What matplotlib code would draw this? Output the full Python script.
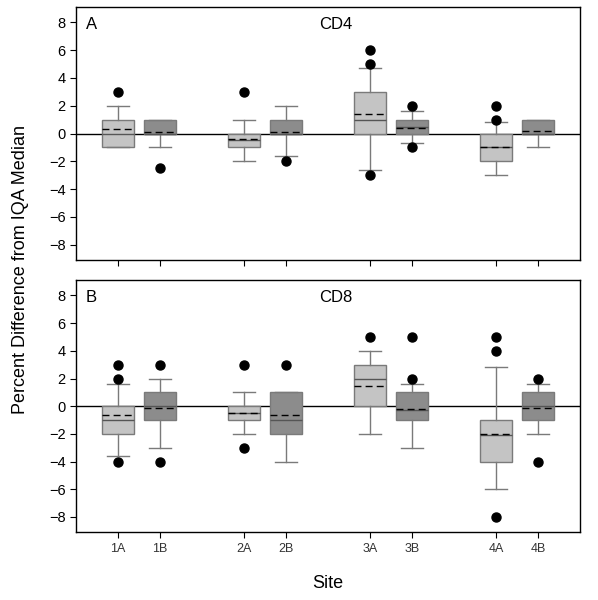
import matplotlib
matplotlib.use("Agg")
import matplotlib.pyplot as plt

plt.rcParams['font.family'] = ['Liberation Sans', 'DejaVu Sans']

# Sites and positions
sites = ["1A", "1B", "2A", "2B", "3A", "3B", "4A", "4B"]
positions = [1, 2, 4, 5, 7, 8, 10, 11]

# CD4 panel
cd4_q1 = [-1, 0, -1, 0, 0, 0, -2, 0]
cd4_q3 = [1, 1, 0, 1, 3, 1, 0, 1]
cd4_med = [0, 0, -0.5, 0, 1, 0.5, -1, 0]
cd4_mean = [0.3, 0.1, -0.43, 0.1, 1.43, 0.4, -0.95, 0.2]
cd4_lo = [-1, -1, -2, -1.6, -2.6, -0.65, -3, -1]
cd4_hi = [2, 1, 1, 2, 4.75, 1.6, 0.8, 1]
cd4_fliers = [[3], [-2.5], [3], [-2], [6, 5, -3], [2, -1], [2, 1], []]

# CD8 panel
cd8_q1 = [-2, -1, -1, -2, 0, -1, -4, -1]
cd8_q3 = [0, 1, 0, 1, 3, 1, -1, 1]
cd8_med = [-1, 0, -0.5, -1, 2, -0.3, -2.1, 0]
cd8_mean = [-0.66, -0.14, -0.47, -0.66, 1.46, -0.23, -2.0, -0.1]
cd8_lo = [-3.6, -3, -2, -4, -2, -3, -6, -2]
cd8_hi = [1.6, 2, 1, 1, 4, 1.6, 2.8, 1.6]
cd8_fliers = [[3, 2, -4], [3, -4], [3, -3], [3], [5], [5, 2], [5, 4, -8], [2, -4]]

light = "#c4c4c4"
dark = "#8c8c8c"
edge = "#7a7a7a"


def make_stats(q1, q3, med, mean, lo, hi, fliers):
    stats = []
    for i in range(len(q1)):
        stats.append(dict(q1=q1[i], q3=q3[i], med=med[i], mean=mean[i],
                          whislo=lo[i], whishi=hi[i], fliers=fliers[i]))
    return stats


def draw_panel(ax, stats, letter, title, show_labels):
    ax.axhline(0, color="black", lw=1.0, zorder=1)
    bp = ax.bxp(stats, positions=positions, widths=0.78, patch_artist=True,
                showmeans=True, meanline=True,
                boxprops=dict(edgecolor=edge, linewidth=1.0),
                whiskerprops=dict(color=edge, linewidth=1.0),
                capprops=dict(color=edge, linewidth=1.0),
                medianprops=dict(color="#555555", linewidth=1.0),
                meanprops=dict(color="black", linestyle=(0, (5, 3)), linewidth=1.0),
                flierprops=dict(marker="o", markerfacecolor="black",
                                markeredgecolor="black", markersize=6.5))
    for i, b in enumerate(bp["boxes"]):
        b.set_facecolor(light if i % 2 == 0 else dark)
        b.set_zorder(2)
    for c in bp["caps"]:
        x = c.get_xdata()
        m = (x[0] + x[1]) / 2
        c.set_xdata([m - 0.26, m + 0.26])
    ax.set_xlim(0, 12)
    ax.set_ylim(-9.1, 9.1)
    ax.set_yticks([-8, -6, -4, -2, 0, 2, 4, 6, 8])
    ax.set_xticks(positions)
    if show_labels:
        ax.set_xticklabels(sites, fontsize=9, color="#333333")
    else:
        ax.set_xticklabels([])
    ax.tick_params(axis="y", labelsize=10.5, direction="out", length=4)
    ax.tick_params(axis="x", direction="out", length=4)
    for s in ax.spines.values():
        s.set_linewidth(1.0)
    ax.text(0.02, 0.93, letter, transform=ax.transAxes, fontsize=12,
            va="center", ha="left")
    ax.text(0.515, 0.93, title, transform=ax.transAxes, fontsize=12,
            va="center", ha="center")


fig = plt.figure(figsize=(5.98, 6.0), dpi=100)
ax1 = fig.add_axes([0.127, 0.567, 0.843, 0.421])
ax2 = fig.add_axes([0.127, 0.113, 0.843, 0.42])

draw_panel(ax1, make_stats(cd4_q1, cd4_q3, cd4_med, cd4_mean, cd4_lo, cd4_hi, cd4_fliers),
           "A", "CD4", False)
draw_panel(ax2, make_stats(cd8_q1, cd8_q3, cd8_med, cd8_mean, cd8_lo, cd8_hi, cd8_fliers),
           "B", "CD8", True)

fig.text(0.035, 0.55, "Percent Difference from IQA Median", rotation=90,
         fontsize=13, va="center", ha="center")
fig.text(0.548, 0.028, "Site", fontsize=13, va="center", ha="center")

fig.savefig("out.png", dpi=100)
